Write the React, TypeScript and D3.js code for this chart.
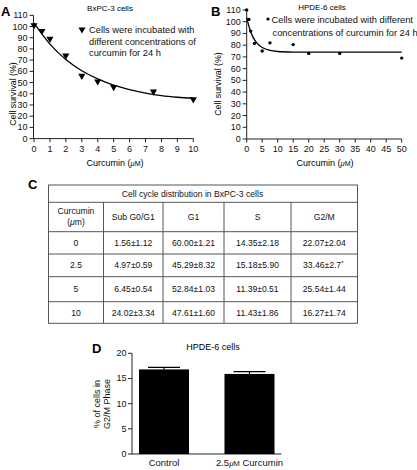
import React from "react";
import * as d3 from "d3";

// Panel A data (BxPC-3)
const concA = [0, 0.5, 1, 2, 3, 4, 5, 7.5, 10];
const survA = [101, 96, 89, 74, 56, 51, 46, 42, 35];
const fitXA = [0, 1, 2, 3, 4, 5, 6, 7, 8, 9, 10];
const fitYA = [103, 84.3, 70.5, 60.5, 53.3, 47.7, 43.7, 40.6, 38.3, 36.9, 36];

// Panel B data (HPDE-6)
const concB = [0, 0.7, 1.3, 2.5, 5, 7.5, 15, 20, 30, 50];
const survB = [110, 102, 92, 81.5, 75, 82, 80.5, 73, 73, 69];
const fitXB = [0, 1, 2, 3, 4, 5, 7.5, 10, 15, 20, 30, 50];
const fitYB = [103.5, 93.6, 87.1, 82.8, 79.9, 78, 75.5, 74.6, 74.1, 74, 74, 74];

const ticksAx = [0, 1, 2, 3, 4, 5, 6, 7, 8, 9, 10];
const ticksBx = [0, 5, 10, 15, 20, 25, 30, 35, 40, 45, 50];
const ticksY = [0, 10, 20, 30, 40, 50, 60, 70, 80, 90, 100, 110];

// Panel C table
const tableTitle = "Cell cycle distribution in BxPC-3 cells";
const tableHeaders = ["Sub G0/G1", "G1", "S", "G2/M"];
const concentrations = ["0", "2.5", "5", "10"];
const subG0G1 = ["1.56±1.12", "4.97±0.59", "6.45±0.54", "24.02±3.34"];
const g1 = ["60.00±1.21", "45.29±8.32", "52.84±1.03", "47.61±1.60"];
const sPhase = ["14.35±2.18", "15.18±5.90", "11.39±0.51", "11.43±1.86"];
const g2m = ["22.07±2.04", "33.46±2.7", "25.54±1.44", "16.27±1.74"];
const g2mMark = ["", "*", "", ""];

// Panel D data
const groupsD = ["Control", "Curcumin"];
const valuesD = [16.8, 15.9];
const errorsD = [0.4, 0.45];
const ticksD = [0, 5, 10, 15, 20];

const FONT = "'Liberation Sans', Arial, Helvetica, sans-serif";
const AX = "#222";

function Axes({ x, y, xt, yt, x0, y0 }: any) {
  const [xa, xb] = x.range();
  const [ya, yb] = y.range();
  return (
    <g fontFamily={FONT} fontSize={9} fill="#111">
      <line x1={x0} x2={x0} y1={ya} y2={yb} stroke={AX} strokeWidth={1} />
      <line x1={x0} x2={xb} y1={y0} y2={y0} stroke={AX} strokeWidth={1} />
      {yt.map((t: number) => (
        <g key={"y" + t}>
          <line x1={x0 - 4} x2={x0} y1={y(t)} y2={y(t)} stroke={AX} />
          <text x={x0 - 6} y={y(t)} textAnchor="end" dominantBaseline="central">{t}</text>
        </g>
      ))}
      {xt.map((t: number) => (
        <g key={"x" + t}>
          <line x1={x(t)} x2={x(t)} y1={y0} y2={y0 + 3.5} stroke={AX} />
          <text x={x(t)} y={y0 + 13} textAnchor="middle">{t}</text>
        </g>
      ))}
    </g>
  );
}

export default function App() {
  // Panel A
  const xA = d3.scaleLinear().domain([0, 10]).range([34, 193.3]);
  const yA = d3.scaleLinear().domain([0, 110]).range([138.6, 15.3]);
  const lineA = d3.line<number>().x((d, i) => xA(fitXA[i])).y((d) => yA(d)).curve(d3.curveMonotoneX);
  const tri = d3.symbol().type(d3.symbolTriangle).size(22)();

  // Panel B
  const xB = d3.scaleLinear().domain([0, 50]).range([246.7, 401.7]);
  const yB = d3.scaleLinear().domain([0, 110]).range([139, 10]);
  const lineB = d3.line<number>().x((d, i) => xB(fitXB[i])).y((d) => yB(d)).curve(d3.curveMonotoneX);

  // Panel C
  const colX = [48.5, 103.5, 163, 224, 291, 357.5];
  const rowY = [185, 202.3, 231.7, 254, 276.7, 301.7, 323.3];
  const columns = [concentrations, subG0G1, g1, sPhase, g2m];

  // Panel D
  const xD = d3.scaleBand().domain(groupsD).range([132, 281.5]).paddingInner(0.415).paddingOuter(0.082);
  const yD = d3.scaleLinear().domain([0, 20]).range([454, 353.3]);

  return (
    <svg width={417} height={470} style={{ position: "absolute", left: 0, top: 0, background: "#fff" }}>
      <rect width={417} height={470} fill="#fff" />
      {/* Panel A */}
      <text x={1} y={15.5} fontFamily={FONT} fontWeight="bold" fontSize={13}>A</text>
      <text x={110} y={10.5} fontFamily={FONT} fontSize={8} textAnchor="middle">BxPC-3 cells</text>
      <Axes x={xA} y={yA} xt={ticksAx} yt={ticksY} x0={33.5} y0={138.6} />
      <path d={lineA(fitYA) || ""} fill="none" stroke="#000" strokeWidth={1.3} />
      {concA.map((c, i) => (
        <path key={i} d={tri} transform={`translate(${xA(c)},${yA(survA[i])}) rotate(180)`} fill="#000" />
      ))}
      <path d={tri} transform="translate(82,29.5) rotate(180)" fill="#000" />
      <g fontFamily={FONT} fontSize={9.3} fill="#111">
        <text x={89} y={33}>Cells were incubated with</text>
        <text x={89} y={44.5}>different concentrations of</text>
        <text x={89} y={56}>curcumin for 24 h</text>
      </g>
      <text transform="translate(16,94) rotate(-90)" fontFamily={FONT} fontSize={8.8} textAnchor="middle">Cell survival (%)</text>
      <text x={115} y={166} fontFamily={FONT} fontSize={9} textAnchor="middle">
        Curcumin (<tspan fontStyle="italic" fontSize={7.5}>μ</tspan><tspan fontSize={7}>M</tspan>)
      </text>

      {/* Panel B */}
      <text x={211} y={15.5} fontFamily={FONT} fontWeight="bold" fontSize={13}>B</text>
      <text x={322} y={10} fontFamily={FONT} fontSize={8} textAnchor="middle">HPDE-6 cells</text>
      <Axes x={xB} y={yB} xt={ticksBx} yt={ticksY} x0={246.7} y0={139} />
      <path d={lineB(fitYB) || ""} fill="none" stroke="#000" strokeWidth={1.3} />
      {concB.map((c, i) => (
        <circle key={i} cx={xB(c)} cy={yB(survB[i])} r={1.7} fill="#000" />
      ))}
      <circle cx={268} cy={19} r={1.6} fill="#000" />
      <g fontFamily={FONT} fontSize={9.3} fill="#111">
        <text x={271.5} y={22.5}>Cells were incubated with different</text>
        <text x={272.5} y={35.5}>concentrations of curcumin for 24 h</text>
      </g>
      <text transform="translate(221,84) rotate(-90)" fontFamily={FONT} fontSize={8.8} textAnchor="middle">Cell survival (%)</text>
      <text x={325} y={166} fontFamily={FONT} fontSize={9} textAnchor="middle">
        Curcumin (<tspan fontStyle="italic" fontSize={7.5}>μ</tspan><tspan fontSize={7}>M</tspan>)
      </text>

      {/* Panel C */}
      <text x={28} y={189} fontFamily={FONT} fontWeight="bold" fontSize={13}>C</text>
      <g stroke="#555" strokeWidth={1} fill="none">
        <rect x={colX[0]} y={rowY[0]} width={colX[5] - colX[0]} height={rowY[6] - rowY[0]} />
        {rowY.slice(1, 6).map((ry, i) => (
          <line key={"r" + i} x1={colX[0]} x2={colX[5]} y1={ry} y2={ry} />
        ))}
        {colX.slice(1, 5).map((cx, i) => (
          <line key={"c" + i} x1={cx} x2={cx} y1={rowY[1]} y2={rowY[6]} />
        ))}
      </g>
      <g fontFamily={FONT} fontSize={8.6} fill="#111" textAnchor="middle">
        <text x={192.5} y={rowY[0] + 12.3}>{tableTitle}</text>
        <text x={(colX[0] + colX[1]) / 2} y={214}>Curcumin</text>
        <text x={(colX[0] + colX[1]) / 2} y={225}>(<tspan fontStyle="italic">μ</tspan>m)</text>
        {tableHeaders.map((h, i) => (
          <text key={h} x={(colX[i + 1] + colX[i + 2]) / 2} y={(rowY[1] + rowY[2]) / 2 + 3}>{h}</text>
        ))}
        {columns.map((col, ci) =>
          col.map((v, ri) => (
            <text key={ci + "-" + ri} x={(colX[ci] + colX[ci + 1]) / 2 + (ci === 4 && g2mMark[ri] ? -1 : 0)} y={(rowY[ri + 2] + rowY[ri + 3]) / 2 + 3}>
              {v}
              {ci === 4 && g2mMark[ri] ? <tspan fontSize={6} dy={-3}>{g2mMark[ri]}</tspan> : null}
            </text>
          ))
        )}
      </g>

      {/* Panel D */}
      <text x={92} y={353} fontFamily={FONT} fontWeight="bold" fontSize={13}>D</text>
      <text x={213} y={350} fontFamily={FONT} fontSize={9} textAnchor="middle">HPDE-6 cells</text>
      <g fontFamily={FONT} fontSize={9} fill="#111">
        <line x1={132} x2={132} y1={yD(0)} y2={yD(20)} stroke={AX} />
        <line x1={132} x2={281.5} y1={yD(0)} y2={yD(0)} stroke={AX} />
        {ticksD.map((t) => (
          <g key={t}>
            <line x1={128} x2={132} y1={yD(t)} y2={yD(t)} stroke={AX} />
            <text x={126.5} y={yD(t)} textAnchor="end" dominantBaseline="central">{t}</text>
          </g>
        ))}
      </g>
      {groupsD.map((g, i) => {
        const x0 = xD(g) as number;
        const w = xD.bandwidth();
        const cx = x0 + w / 2;
        return (
          <g key={g}>
            <rect x={x0} y={yD(valuesD[i])} width={w} height={yD(0) - yD(valuesD[i])} fill="#000" />
            <line x1={cx} x2={cx} y1={yD(valuesD[i])} y2={yD(valuesD[i] + errorsD[i])} stroke="#000" strokeWidth={1.2} />
            <line x1={cx - 16} x2={cx + 16} y1={yD(valuesD[i] + errorsD[i])} y2={yD(valuesD[i] + errorsD[i])} stroke="#000" strokeWidth={1.2} />
          </g>
        );
      })}
      <g fontFamily={FONT} fontSize={9.5} fill="#111" textAnchor="middle">
        <text x={(xD("Control") as number) + xD.bandwidth() / 2} y={466}>Control</text>
        <text x={(xD("Curcumin") as number) + xD.bandwidth() / 2} y={466}>
          2.5<tspan fontStyle="italic" fontSize={8}>μ</tspan><tspan fontSize={7.5}>M</tspan> Curcumin
        </text>
      </g>
      <g fontFamily={FONT} fontSize={9} fill="#111" textAnchor="middle">
        <text transform="translate(99.5,404) rotate(-90)">% of cells in</text>
        <text transform="translate(109.5,404) rotate(-90)">G2/M Phase</text>
      </g>
    </svg>
  );
}
